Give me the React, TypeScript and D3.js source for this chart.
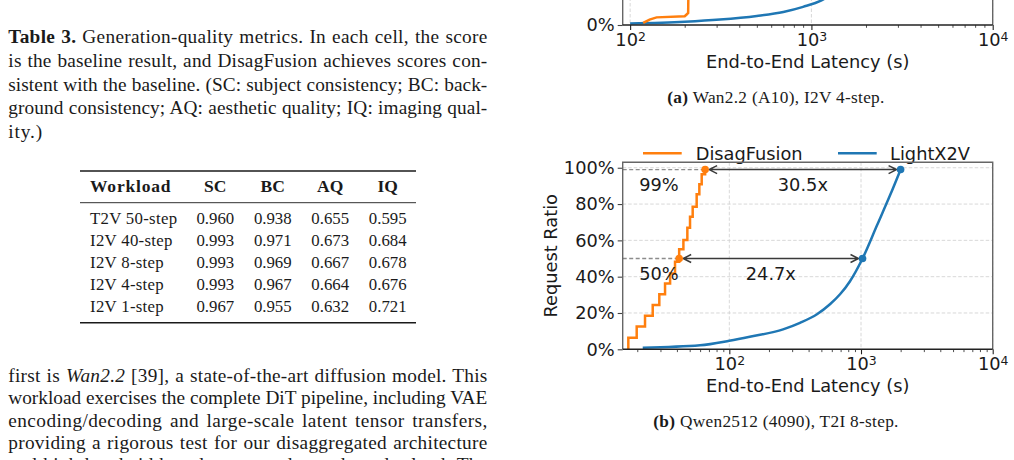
import { useEffect, useRef } from 'react'
import * as d3 from 'd3'

// Table 3 – generation-quality metrics
const tableHeader = ['Workload', 'SC', 'BC', 'AQ', 'IQ']
const workloads = ['T2V 50-step', 'I2V 40-step', 'I2V 8-step', 'I2V 4-step', 'I2V 1-step']
const scScores = [0.960, 0.993, 0.993, 0.993, 0.967]
const bcScores = [0.938, 0.971, 0.969, 0.967, 0.955]
const aqScores = [0.655, 0.673, 0.667, 0.664, 0.632]
const iqScores = [0.595, 0.684, 0.678, 0.676, 0.721]

// latency CDFs, [end-to-end latency (s), request ratio]
// (a) Wan2.2 (A10), I2V 4-step – only the bottom of this panel is on the page
const wanDisag: [number, number][] = [
  [118, 0.012], [128, 0.03], [140, 0.042], [200, 0.048], [205, 0.058], [209, 0.066],
  [210, 0.25], [212, 0.6], [215, 0.99],
]
const wanLight: [number, number][] = [
  [100, 0.008], [200, 0.018], [313, 0.03], [500, 0.05], [700, 0.072], [900, 0.1],
  [1137, 0.136], [1500, 0.22], [2000, 0.4], [2500, 0.7], [3000, 0.99],
]
// (b) Qwen2512 (4090), T2I 8-step
const qwenDisag: [number, number][] = [
  [17.1, 0], [17.1, 0.064], [19.8, 0.125], [22.9, 0.185], [26.2, 0.244], [29.4, 0.303],
  [32.5, 0.363], [35.5, 0.418], [38.7, 0.482], [41.6, 0.551], [44.8, 0.602], [48.0, 0.67],
  [50.3, 0.73], [52.7, 0.785], [56.5, 0.854], [59.2, 0.909], [61.7, 0.964], [65.5, 0.995],
]
const qwenLight: [number, number][] = [
  [22, 0.009], [60, 0.022], [100, 0.047], [143, 0.069], [256, 0.11], [344, 0.146],
  [463, 0.193], [581, 0.248], [693, 0.303], [825, 0.375], [1027, 0.5], [1323, 0.683],
  [1661, 0.848], [1998, 0.99],
]
const pctLevels = [0.99, 0.5]
const pctLabels = ['99%', '50%']
const disagAtPct = [65.5, 41.6]
const lightAtPct = [1998, 1027]
const speedupLabels = ['30.5x', '24.7x']
const pctLabelX = 20.7

const yTicks = [0, 0.2, 0.4, 0.6, 0.8, 1.0]
const seriesNames = ['DisagFusion', 'LightX2V']

const captionLines = [
  [['Table 3.', 'b'], [' Generation-quality metrics. In each cell, the score']],
  [['is the baseline result, and DisagFusion achieves scores con-']],
  [['sistent with the baseline. (SC: subject consistency; BC: back-']],
  [['ground consistency; AQ: aesthetic quality; IQ: imaging qual-']],
  [['ity.)']],
]
const bodyLines = [
  [['first is '], ['Wan2.2', 'i'], [' [39], a state-of-the-art diffusion model. This']],
  [['workload exercises the complete DiT pipeline, including VAE']],
  [['encoding/decoding and large-scale latent tensor transfers,']],
  [['providing a rigorous test for our disaggregated architecture']],
  [['and high bandwidth and memory demands under load. The']],
]

const W = 1014
const H = 460
const serif = '"Liberation Serif", "Times New Roman", serif'
const sans = '"DejaVu Sans", sans-serif'
const ink = '#1a1a1a'
const ORANGE = '#ff7f0e'
const BLUE = '#1f77b4'

export default function App() {
  const svgRef = useRef<SVGSVGElement>(null)

  useEffect(() => {
    if (!svgRef.current) return
    const svg = d3.select(svgRef.current)
    svg.selectAll('*').remove()

    // one line of running text; justified lines get letter and word spacing to fill the column
    const textLine = (x: number, y: number, segs: any[], width: number, justify: boolean, size: number) => {
      const t = svg.append('text')
        .attr('x', x).attr('y', y)
        .attr('font-family', serif).attr('font-size', size).attr('fill', ink)
        .style('white-space', 'pre')
      segs.forEach(([s, st]) => {
        const ts = t.append('tspan').text(s)
        if (st === 'b') ts.attr('font-weight', 'bold')
        if (st === 'i') ts.attr('font-style', 'italic')
      })
      const node = t.node() as SVGTextElement
      const txt = node.textContent || ''
      if (!justify) {
        t.style('letter-spacing', '0.9px')
        return
      }
      const natural = node.getComputedTextLength()
      const ls = Math.max(0, Math.min(0.9, (0.7 * (width - natural)) / txt.length))
      t.style('letter-spacing', `${ls}px`)
      const withLs = node.getComputedTextLength() - ls
      const spaces = txt.split(' ').length - 1
      if (spaces > 0) t.style('word-spacing', `${(width - withLs) / spaces}px`)
    }

    captionLines.forEach((segs, i) =>
      textLine(8.3, 43.3 + i * 23.65, segs, 479, i < captionLines.length - 1, 19.3))
    bodyLines.forEach((segs, i) =>
      textLine(8.3, 382 + i * 22.3, segs, 479, true, 19.3))

    // ---- table ----
    const tbl = svg.append('g').attr('font-family', serif).attr('fill', ink).attr('font-size', 16.8)
    const colX = d3.scalePoint<string>().domain(tableHeader.slice(1)).range([215.3, 387.7])
    const rowY = d3.scalePoint<string>().domain(workloads).range([224.3, 311.5])
    const rule = (y: number, w: number) =>
      tbl.append('line').attr('x1', 80).attr('x2', 416).attr('y1', y).attr('y2', y)
        .attr('stroke', ink).attr('stroke-width', w)
    rule(171, 1.6)
    rule(202.7, 0.9)
    rule(322.7, 1.6)
    tbl.append('text').attr('x', 90).attr('y', 192.3).attr('font-weight', 'bold').attr('font-size', 17.5)
      .style('letter-spacing', '0.8px').text(tableHeader[0])
    tableHeader.slice(1).forEach(h =>
      tbl.append('text').attr('x', colX(h)!).attr('y', 192.3).attr('text-anchor', 'middle')
        .attr('font-weight', 'bold').attr('font-size', 17.5).text(h))
    const cols = [scScores, bcScores, aqScores, iqScores]
    workloads.forEach((w, r) => {
      tbl.append('text').attr('x', 90).attr('y', rowY(w)!).style('letter-spacing', '0.3px').text(w)
      cols.forEach((vals, c) =>
        tbl.append('text').attr('x', colX(tableHeader[c + 1])!).attr('y', rowY(w)!)
          .attr('text-anchor', 'middle').text(d3.format('.3f')(vals[r])))
    })

    // ---- CDF panels ----
    const drawPanel = (opt: any) => {
      const left = 622.7
      const right = 992.7
      const bottom = opt.bottom
      const top = bottom - 187
      const x = d3.scaleLog().domain(opt.xDomain).range([left, right])
      const y = d3.scaleLinear().domain([0, 1.03]).range([bottom, top])
      const g = svg.append('g')
      const fs = 17.8

      const [d0, d1] = opt.xDomain
      const majors = d3.range(Math.ceil(Math.log10(d0)), Math.floor(Math.log10(d1)) + 1).map(e => 10 ** e)
      const minors: number[] = []
      d3.range(Math.floor(Math.log10(d0)), Math.floor(Math.log10(d1))).forEach(e => {
        for (let k = 2; k <= 9; k++) {
          const v = k * 10 ** e
          if (v >= d0 && v <= d1) minors.push(v)
        }
      })

      // grid
      const grid = g.append('g').attr('stroke', '#d4d4d4').attr('stroke-width', 0.9)
        .attr('stroke-dasharray', '3.5,2')
      majors.forEach(v => grid.append('line').attr('x1', x(v)).attr('x2', x(v))
        .attr('y1', top).attr('y2', bottom))
      yTicks.slice(1).forEach(v => grid.append('line').attr('x1', left).attr('x2', right)
        .attr('y1', y(v)).attr('y2', y(v)))

      // axes
      const xa = g.append('g').attr('transform', `translate(0,${bottom})`)
        .call(d3.axisBottom(x).tickValues(majors).tickSize(5).tickPadding(3.5).tickFormat(() => ''))
      xa.select('.domain').remove()
      xa.selectAll('.tick line').attr('stroke', '#222').attr('stroke-width', 1.1)
      xa.selectAll<SVGTextElement, number>('.tick text')
        .attr('font-family', sans).attr('font-size', fs).attr('fill', ink)
        .each(function (d) {
          const t = d3.select(this)
          t.append('tspan').text('10')
          t.append('tspan').attr('dy', '-0.42em').attr('font-size', fs * 0.7)
            .text(String(Math.round(Math.log10(d))))
        })
      const xm = g.append('g').attr('transform', `translate(0,${bottom})`)
        .call(d3.axisBottom(x).tickValues(minors).tickSize(2.8).tickFormat(() => ''))
      xm.select('.domain').remove()
      xm.selectAll('.tick line').attr('stroke', '#222').attr('stroke-width', 0.8)

      const ya = g.append('g').attr('transform', `translate(${left},0)`)
        .call(d3.axisLeft(y).tickValues(yTicks).tickSize(5).tickPadding(3)
          .tickFormat(d => `${Math.round(+d * 100)}%`))
      ya.select('.domain').remove()
      ya.selectAll('.tick line').attr('stroke', '#444').attr('stroke-width', 1.1)
      ya.selectAll('.tick text').attr('font-family', sans).attr('font-size', fs).attr('fill', ink)

      // axis titles
      g.append('text').attr('x', (left + right) / 2).attr('y', bottom + 43)
        .attr('text-anchor', 'middle').attr('font-family', sans).attr('font-size', fs).attr('fill', ink)
        .text('End-to-End Latency (s)')
      g.append('text').attr('transform', `translate(556.5,${(top + bottom) / 2}) rotate(-90)`)
        .attr('text-anchor', 'middle').attr('font-family', sans).attr('font-size', fs).attr('fill', ink)
        .text('Request Ratio')

      // curves
      const clipId = `clip-${opt.id}`
      svg.append('clipPath').attr('id', clipId).append('rect')
        .attr('x', left).attr('y', top - 3).attr('width', right - left).attr('height', bottom - top + 3)
      const curves = g.append('g').attr('clip-path', `url(#${clipId})`).attr('fill', 'none')
        .attr('stroke-width', 2.5)
      const line = (c: any) => d3.line<[number, number]>().x(d => x(d[0])).y(d => y(d[1])).curve(c)
      curves.append('path').attr('d', line(d3.curveMonotoneX)(opt.light)).attr('stroke', BLUE)
      curves.append('path').attr('d', line(opt.stepped ? d3.curveStepAfter : d3.curveLinear)(opt.disag))
        .attr('stroke', ORANGE).attr('stroke-linejoin', 'miter')

      // percentile annotations
      if (opt.annotate) {
        pctLevels.forEach((p, i) => {
          const xo = x(disagAtPct[i])
          const xl = x(lightAtPct[i])
          const yy = y(p)
          g.append('line').attr('x1', left).attr('x2', xo).attr('y1', yy).attr('y2', yy)
            .attr('stroke', '#8c8c8c').attr('stroke-width', 1.3).attr('stroke-dasharray', '4,2.5')
          const a0 = xo + 4
          const a1 = xl - 4
          const ah = 8
          const aw = 4
          g.append('path')
            .attr('d', `M${a0},${yy}L${a1},${yy}M${a0 + ah},${yy - aw}L${a0},${yy}L${a0 + ah},${yy + aw}` +
              `M${a1 - ah},${yy - aw}L${a1},${yy}L${a1 - ah},${yy + aw}`)
            .attr('fill', 'none').attr('stroke', '#3a3a3a').attr('stroke-width', 1.5)
          g.append('circle').attr('cx', xo).attr('cy', yy).attr('r', 3.8).attr('fill', ORANGE)
          g.append('circle').attr('cx', xl).attr('cy', yy).attr('r', 3.8).attr('fill', BLUE)
          g.append('text').attr('x', x(pctLabelX)).attr('y', yy + 21.5)
            .attr('font-family', sans).attr('font-size', fs).attr('fill', ink).text(pctLabels[i])
          g.append('text').attr('x', (xo + xl) / 2).attr('y', yy + 21.5)
            .attr('text-anchor', 'middle').attr('font-family', sans).attr('font-size', fs).attr('fill', ink)
            .text(speedupLabels[i])
        })
      }

      // legend above the frame
      const ly = top - 9
      const legendX = [[643, 695.7], [838, 890]]
      ;[ORANGE, BLUE].forEach((c, i) => {
        g.append('line').attr('x1', legendX[i][0]).attr('x2', legendX[i][0] + 38.7)
          .attr('y1', ly).attr('y2', ly).attr('stroke', c).attr('stroke-width', 2.5)
        g.append('text').attr('x', legendX[i][1]).attr('y', ly).attr('dy', '0.36em')
          .attr('font-family', sans).attr('font-size', fs).attr('fill', ink).text(seriesNames[i])
      })

      // frame
      const fr = g.append('g').attr('stroke-width', 1.4).attr('fill', 'none')
      fr.append('path').attr('d', `M${left},${bottom}V${top}H${right}V${bottom}`).attr('stroke', '#666')
      fr.append('line').attr('x1', left).attr('x2', right).attr('y1', bottom).attr('y2', bottom)
        .attr('stroke', '#222')

      // sub-caption
      const cap = g.append('text').attr('x', 776).attr('y', bottom + 78).attr('text-anchor', 'middle')
        .attr('font-family', serif).attr('font-size', 17.3).attr('fill', ink)
        .style('white-space', 'pre').style('letter-spacing', '0.3px')
      cap.append('tspan').attr('font-weight', 'bold').text(opt.tag)
      cap.append('tspan').text(' ' + opt.caption)
    }

    drawPanel({
      id: 'a', bottom: 25, xDomain: [91, 1e4], disag: wanDisag, light: wanLight,
      stepped: false, annotate: false, tag: '(a)', caption: 'Wan2.2 (A10), I2V 4-step.',
    })
    drawPanel({
      id: 'b', bottom: 349.3, xDomain: [15.5, 1e4], disag: qwenDisag, light: qwenLight,
      stepped: true, annotate: true, tag: '(b)', caption: 'Qwen2512 (4090), T2I 8-step.',
    })
  }, [])

  return (
    <svg
      ref={svgRef}
      width={W}
      height={H}
      style={{ position: 'absolute', left: 0, top: 0, background: '#fff' }}
    />
  )
}
